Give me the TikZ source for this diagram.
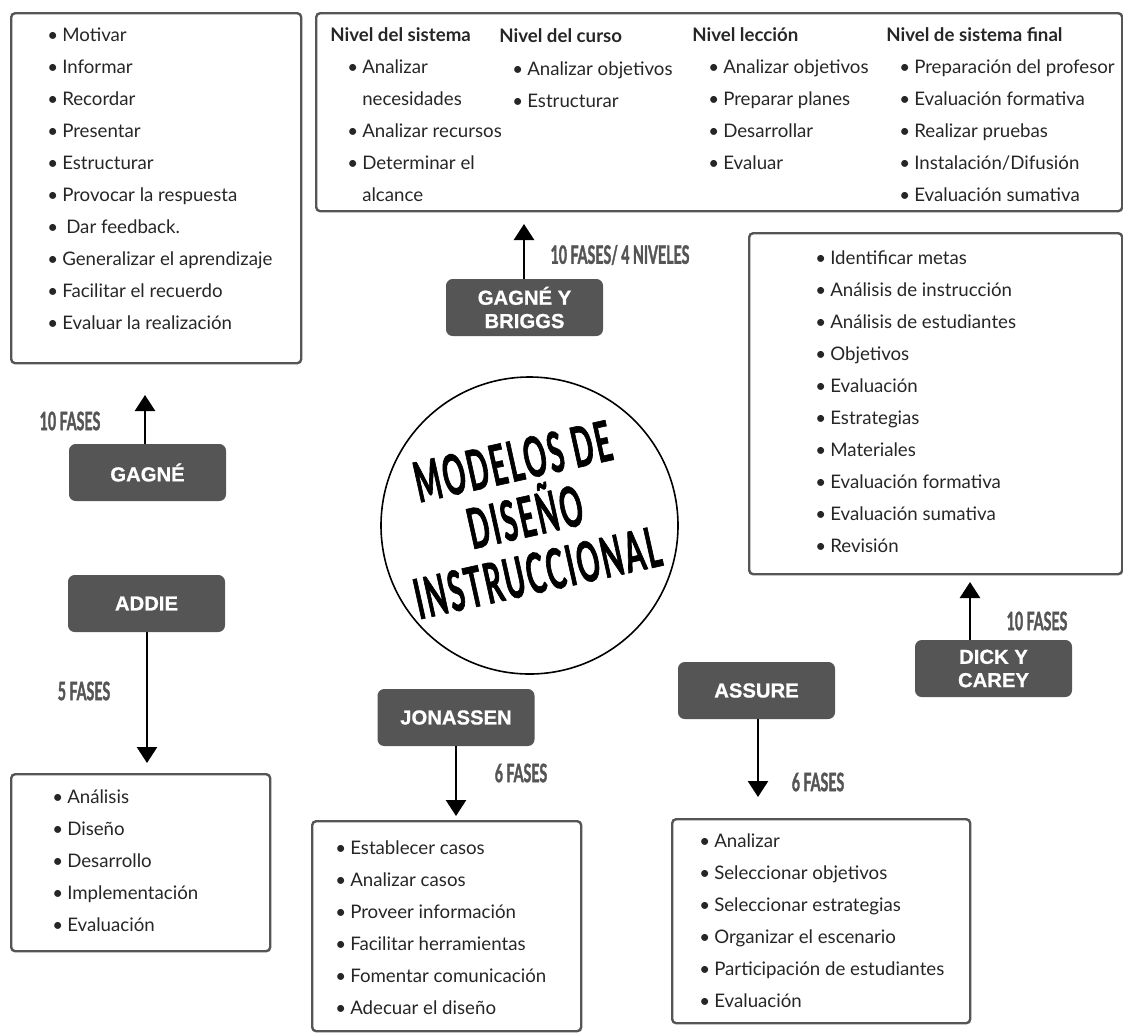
\documentclass[tikz,border=0pt]{standalone}
\usepackage{fontspec}
\usetikzlibrary{arrows.meta}
\setmainfont{Lato}
\newfontfamily\condfont[FakeStretch=0.5, FakeBold=1.1, LetterSpace=4]{Lato}
\newfontfamily\fasefont[FakeStretch=0.56, FakeBold=1.4]{Lato}
\newfontfamily\etiqfont[FakeBold=0.8]{Liberation Sans}
\definecolor{oscuro}{HTML}{555555}
\definecolor{letra}{HTML}{262626}
\newcommand{\itm}[1]{\makebox[11.25pt][l]{\textbullet}#1}
\newcommand{\cont}[1]{\hspace*{11.25pt}#1}
\newenvironment{puntos}{\begin{tabular}[t]{@{}l@{}}}{\end{tabular}}

\begin{document}
\begin{tikzpicture}[x=0.75pt, y=-0.75pt,
	lista/.style={draw=oscuro, line width=1.8pt, rounded corners=3pt, anchor=north west, inner sep=0pt},
	modelo/.style={fill=oscuro, rounded corners=5pt, text=white, align=center, minimum width=117.75pt, minimum height=42.75pt, inner sep=0pt, font=\etiqfont\bfseries\fontsize{15.2}{17.5}\selectfont},
	items/.style={anchor=base west, inner sep=0pt, text=letra, font=\fontsize{14}{24}\selectfont},
	nivel/.style={anchor=base west, inner sep=0pt, text=letra, font=\bfseries\fontsize{14}{24}\selectfont},
	fases/.style={text=oscuro, inner sep=0pt, font=\fasefont\bfseries\fontsize{19}{20}\selectfont},
	flecha/.style={line width=2pt, -{Triangle[width=15pt,length=12pt]}}]
	\useasboundingbox (0,0) rectangle (1123,1032);

	\node[lista, minimum width=217.5pt, minimum height=262.5pt] (listaGagne) at (10,12) {};
	\node[lista, minimum width=604.5pt, minimum height=148.5pt] (listaBriggs) at (315,12) {};
	\node[lista, minimum width=279.75pt, minimum height=255.75pt] (listaDick) at (748,232) {};
	\node[lista, minimum width=194.25pt, minimum height=132.75pt] (listaAddie) at (10,773) {};
	\node[lista, minimum width=201.75pt, minimum height=157.5pt] (listaJonassen) at (311,820) {};
	\node[lista, minimum width=223.5pt, minimum height=153pt] (listaAssure) at (671,818) {};

	\node[items] (itGagne) at (47,41) {\begin{puntos}\itm{Motivar}\\\itm{Informar}\\\itm{Recordar}\\\itm{Presentar}\\\itm{Estructurar}\\\itm{Provocar la respuesta}\\\itm{\hspace{3pt}Dar feedback.}\\\itm{Generalizar el aprendizaje}\\\itm{Facilitar el recuerdo}\\\itm{Evaluar la realización}\end{puntos}};

	\node[nivel] (nivSistema) at (330,41) {Nivel del sistema};
	\node[nivel] (nivCurso) at (499,42) {Nivel del curso};
	\node[nivel] (nivLeccion) at (692,41) {Nivel lección};
	\node[nivel] (nivFinal) at (886,41) {Nivel de sistema final};
	\node[items] (itSistema) at (347,73) {\begin{puntos}\itm{Analizar}\\\cont{necesidades}\\\itm{Analizar recursos}\\\itm{Determinar el}\\\cont{alcance}\end{puntos}};
	\node[items] (itCurso) at (512,75) {\begin{puntos}\itm{Analizar objetivos}\\\itm{Estructurar}\end{puntos}};
	\node[items] (itLeccion) at (708,73) {\begin{puntos}\itm{Analizar objetivos}\\\itm{Preparar planes}\\\itm{Desarrollar}\\\itm{Evaluar}\end{puntos}};
	\node[items] (itFinal) at (899,73) {\begin{puntos}\itm{Preparación del profesor}\\\itm{Evaluación formativa}\\\itm{Realizar pruebas}\\\itm{Instalación/Difusión}\\\itm{Evaluación sumativa}\end{puntos}};

	\node[items] (itDick) at (815,264) {\begin{puntos}\itm{Identificar metas}\\\itm{Análisis de instrucción}\\\itm{Análisis de estudiantes}\\\itm{Objetivos}\\\itm{Evaluación}\\\itm{Estrategias}\\\itm{Materiales}\\\itm{Evaluación formativa}\\\itm{Evaluación sumativa}\\\itm{Revisión}\end{puntos}};
	\node[items] (itAddie) at (52,803) {\begin{puntos}\itm{Análisis}\\\itm{Diseño}\\\itm{Desarrollo}\\\itm{Implementación}\\\itm{Evaluación}\end{puntos}};
	\node[items] (itJonassen) at (335,854) {\begin{puntos}\itm{Establecer casos}\\\itm{Analizar casos}\\\itm{Proveer información}\\\itm{Facilitar herramientas}\\\itm{Fomentar comunicación}\\\itm{Adecuar el diseño}\end{puntos}};
	\node[items] (itAssure) at (699,847) {\begin{puntos}\itm{Analizar}\\\itm{Seleccionar objetivos}\\\itm{Seleccionar estrategias}\\\itm{Organizar el escenario}\\\itm{Participación de estudiantes}\\\itm{Evaluación}\end{puntos}};

	\node[modelo] (briggs) at (524.5,307.5) {GAGNÉ Y\\BRIGGS};
	\node[modelo] (gagne) at (147.5,472.5) {GAGNÉ};
	\node[modelo] (addie) at (146.5,603.5) {ADDIE};
	\node[modelo] (jonassen) at (456,717.5) {JONASSEN};
	\node[modelo] (assure) at (756.5,690.5) {ASSURE};
	\node[modelo] (dick) at (993.5,668.5) {DICK Y\\CAREY};

	\node[draw, circle, line width=1.2pt, minimum size=222.75pt, inner sep=0pt] (centro) at (529.5,525.5) {};
	\node[rotate=12.5, align=center, inner sep=0pt, font=\condfont\bfseries\fontsize{42}{42.75}\selectfont] (titulo) at (525,517) {MODELOS DE\\DISEÑO\\INSTRUCCIONAL};

	\coordinate (pGagne) at (145,395);
	\coordinate (pBriggs) at (524,224);
	\coordinate (pAddie) at (147,763);
	\coordinate (pJonassen) at (456,816);
	\coordinate (pAssure) at (758,797);
	\coordinate (pDick) at (970,582);
	\draw[flecha] (gagne.north -| pGagne) -- (pGagne);
	\draw[flecha] (briggs.north -| pBriggs) -- (pBriggs);
	\draw[flecha] (addie.south -| pAddie) -- (pAddie);
	\draw[flecha] (jonassen.south -| pJonassen) -- (pJonassen);
	\draw[flecha] (assure.south -| pAssure) -- (pAssure);
	\draw[flecha] (dick.north -| pDick) -- (pDick);

	\node[fases] (fGagne) at (70,421) {10 FASES};
	\node[fases] (fBriggs) at (620,255) {10 FASES/ 4 NIVELES};
	\node[fases] (fAddie) at (84,691) {5 FASES};
	\node[fases] (fJonassen) at (521,773) {6 FASES};
	\node[fases] (fAssure) at (818,782) {6 FASES};
	\node[fases] (fDick) at (1037,621) {10 FASES};
\end{tikzpicture}
\end{document}
